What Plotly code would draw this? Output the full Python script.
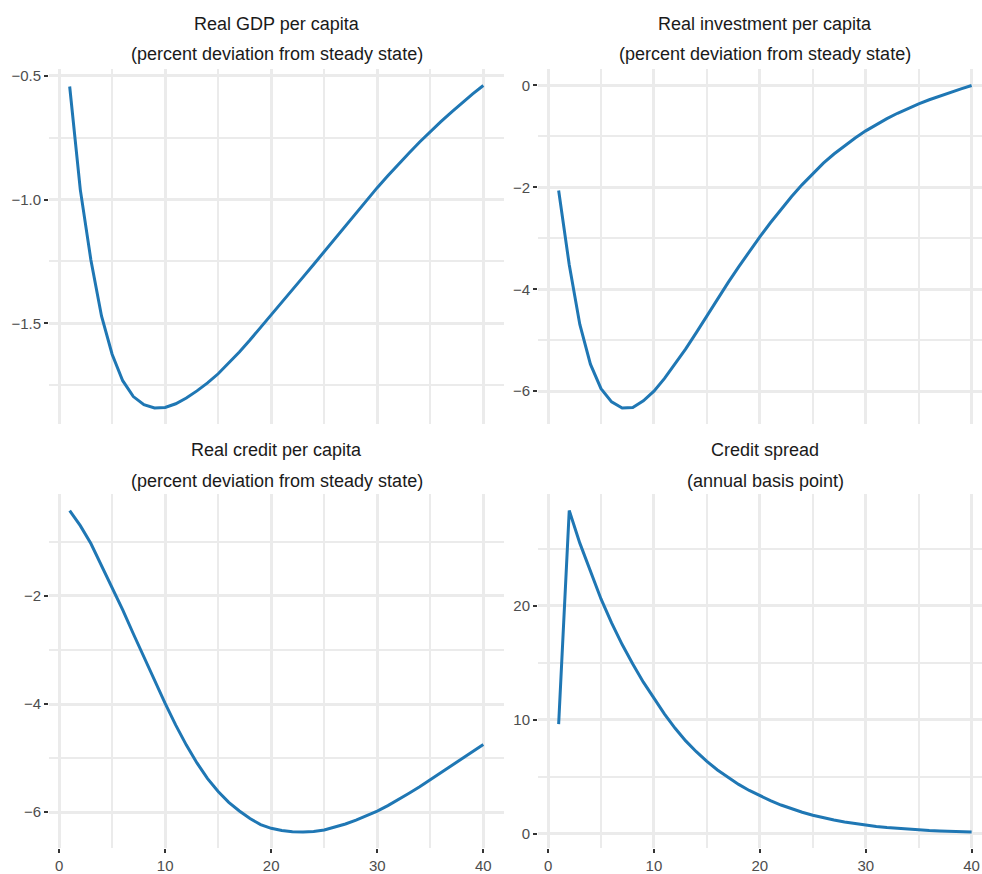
import plotly.graph_objects as go

# Impulse responses over 40 quarters
periods = list(range(1, 41))

gdp = [-0.544, -0.96, -1.244, -1.47, -1.624, -1.731, -1.795, -1.828, -1.841, -1.839,
       -1.824, -1.801, -1.772, -1.74, -1.703, -1.66, -1.615, -1.567, -1.517, -1.466,
       -1.415, -1.364, -1.313, -1.262, -1.21, -1.157, -1.104, -1.052, -1.0, -0.952,
       -0.904, -0.857, -0.812, -0.768, -0.726, -0.686, -0.647, -0.609, -0.574, -0.540]

investment = [-2.06, -3.52, -4.69, -5.47, -5.95, -6.21, -6.33, -6.32, -6.19, -6.00,
              -5.75, -5.47, -5.17, -4.85, -4.52, -4.19, -3.87, -3.56, -3.26, -2.97,
              -2.695, -2.43, -2.18, -1.945, -1.725, -1.525, -1.345, -1.18, -1.03, -0.89,
              -0.765, -0.65, -0.545, -0.45, -0.36, -0.28, -0.205, -0.135, -0.065, 0.0]

credit = [-0.42, -0.70, -1.03, -1.43, -1.84, -2.26, -2.70, -3.14, -3.57, -3.99,
          -4.39, -4.76, -5.09, -5.38, -5.62, -5.82, -5.98, -6.12, -6.23, -6.30,
          -6.34, -6.365, -6.37, -6.36, -6.33, -6.28, -6.22, -6.15, -6.07, -5.98,
          -5.88, -5.77, -5.65, -5.53, -5.40, -5.28, -5.15, -5.02, -4.88, -4.75]

spread = [9.62, 28.36, 25.5, 23.0, 20.6, 18.5, 16.6, 14.9, 13.3, 11.9,
          10.5, 9.25, 8.15, 7.2, 6.35, 5.6, 4.93, 4.33, 3.8, 3.34,
          2.91, 2.52, 2.19, 1.89, 1.63, 1.40, 1.20, 1.03, 0.88, 0.75,
          0.64, 0.54, 0.46, 0.39, 0.33, 0.28, 0.24, 0.20, 0.17, 0.145]

titles = ["Real GDP per capita", "Real investment per capita",
          "Real credit per capita", "Credit spread"]
subtitles = ["(percent deviation from steady state)", "(percent deviation from steady state)",
             "(percent deviation from steady state)", "(annual basis point)"]

x_ticks = [0, 10, 20, 30, 40]
y_ticks = [
    [-1.5, -1.0, -0.5],
    [-6, -4, -2, 0],
    [-6, -4, -2],
    [0, 10, 20],
]
y_minor = [0.25, 1, 1, 5]
y_formats = [".1f", "d", "d", "d"]

series = [gdp, investment, credit, spread]

W, H = 982, 874
LINE = "#1F77B4"
GRID = "#EBEBEB"
FONT = "Liberation Sans, Arial, sans-serif"

# panel boxes in pixels: (left, right, top, bottom)
panels = [
    (49, 504, 68, 426),
    (538, 982, 68, 426),
    (49, 504, 497, 854),
    (538, 982, 497, 854),
]
x_ranges = [[-0.95, 41.95], [-0.95, 40.98], [-0.95, 41.95], [-0.95, 40.98]]
title_cx = [276.5, 765, 276.5, 765]
title_y = [(22, 52), (22, 52), (452, 483), (452, 483)]

fig = go.Figure()
layout = dict(
    width=W, height=H,
    margin=dict(l=0, r=0, t=0, b=0),
    paper_bgcolor="white", plot_bgcolor="white",
    showlegend=False,
    font=dict(family=FONT, color="#4D4D4D", size=15),
)
annotations = []

for i, ys in enumerate(series):
    n = i + 1
    xa = "x" if n == 1 else f"x{n}"
    ya = "y" if n == 1 else f"y{n}"
    fig.add_trace(go.Scatter(x=periods, y=ys, mode="lines", xaxis=xa, yaxis=ya,
                             line=dict(color=LINE, width=3), hoverinfo="skip"))
    l, r, t, b = panels[i]
    lo, hi = min(ys), max(ys)
    pad = 0.05 * (hi - lo)
    bottom_row = i >= 2
    layout[f"xaxis{'' if n == 1 else n}"] = dict(
        domain=[l / W, r / W], range=x_ranges[i], anchor=ya,
        tickvals=x_ticks, showticklabels=bottom_row,
        ticks="outside" if bottom_row else "", ticklen=4, tickwidth=1.6, tickcolor="#333333",
        showgrid=True, gridcolor=GRID, gridwidth=3.2,
        minor=dict(dtick=5, tick0=0, showgrid=True, gridcolor=GRID, gridwidth=1.5),
        zeroline=False, showline=False,
        tickfont=dict(size=15, color="#4D4D4D"),
    )
    layout[f"yaxis{'' if n == 1 else n}"] = dict(
        domain=[1 - b / H, 1 - t / H], range=[lo - pad, hi + pad], anchor=xa,
        tickvals=y_ticks[i], tickformat=y_formats[i],
        ticks="outside", ticklen=4, tickwidth=1.6, tickcolor="#333333",
        showgrid=True, gridcolor=GRID, gridwidth=3.2,
        minor=dict(dtick=y_minor[i], tick0=0, showgrid=True, gridcolor=GRID, gridwidth=1.5),
        zeroline=False, showline=False,
        tickfont=dict(size=15, color="#4D4D4D"),
    )
    for txt, yp in zip((titles[i], subtitles[i]), title_y[i]):
        annotations.append(dict(
            text=txt, x=title_cx[i] / W, y=1 - yp / H, xref="paper", yref="paper",
            xanchor="center", yanchor="middle", showarrow=False,
            font=dict(family=FONT, size=18, color="#1A1A1A"),
        ))

layout["annotations"] = annotations
fig.update_layout(**layout)
fig.write_html("out.html")
